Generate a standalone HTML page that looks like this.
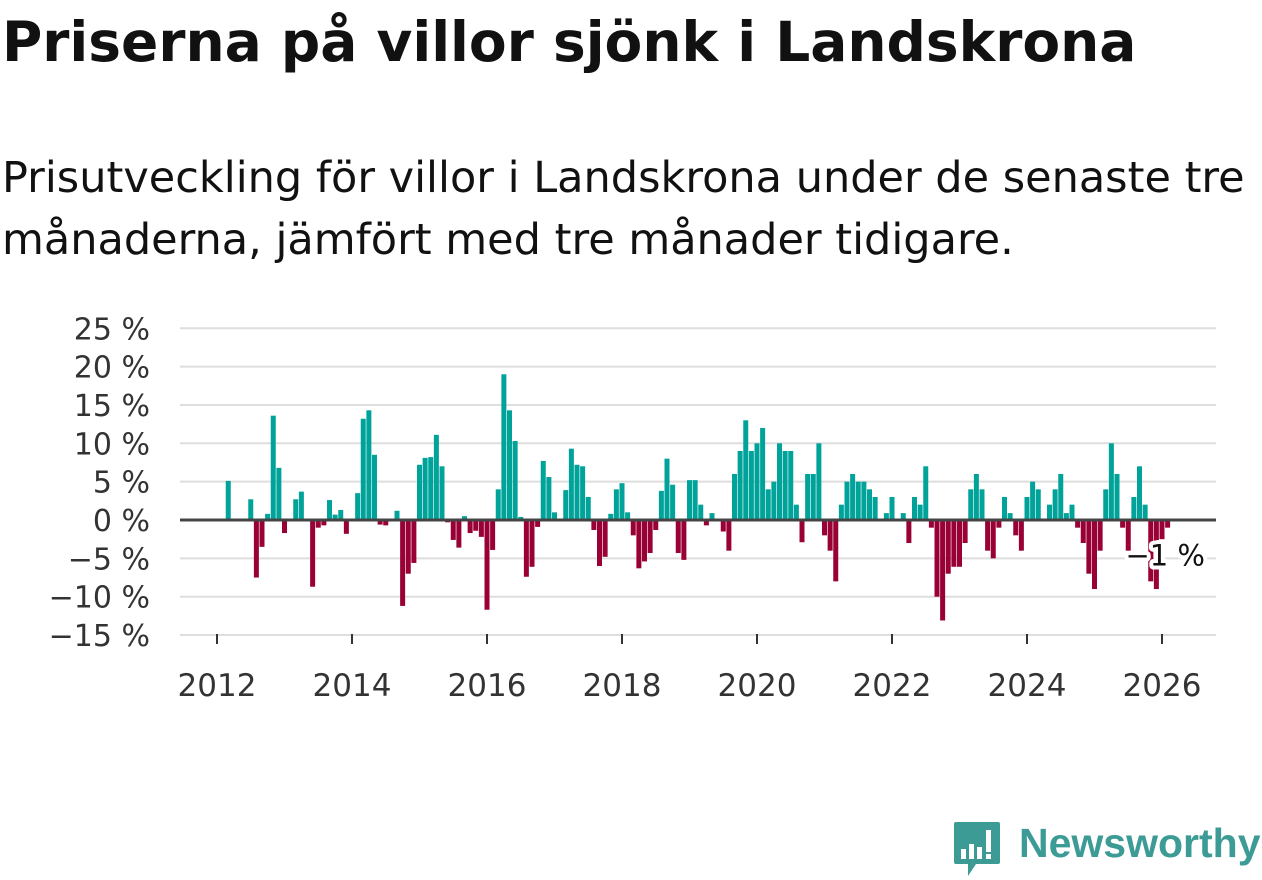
<!DOCTYPE html>
<html><head><meta charset="utf-8">
<style>
body{margin:0;background:#fff;width:1262px;height:879px;overflow:hidden;font-family:"DejaVu Sans","Liberation Sans",sans-serif;}
h1{position:absolute;left:2px;top:10px;margin:0;font-size:55px;font-weight:bold;color:#111;white-space:nowrap}
p{position:absolute;left:2px;top:147px;margin:0;font-size:43px;line-height:62px;color:#111;width:1262px}
svg{position:absolute;left:0;top:0}
</style></head><body>
<h1>Priserna på villor sjönk i Landskrona</h1>
<p>Prisutveckling för villor i Landskrona under de senaste tre månaderna, jämfört med tre månader tidigare.</p>
<svg id="chart" width="1262" height="879"></svg>
<div style="position:absolute;left:952px;top:820px;width:310px;height:60px">
<svg width="50" height="60" style="position:absolute;left:0;top:0"><path d="M4 2h42a2 2 0 0 1 2 2v38a2 2 0 0 1-2 2H24l-8 12v-12H4a2 2 0 0 1-2-2V4a2 2 0 0 1 2-2z" fill="#3d9b96"/><rect x="9" y="29" width="5" height="10" fill="#fff"/><rect x="17" y="24" width="5" height="15" fill="#fff"/><rect x="25" y="27" width="5" height="12" fill="#fff"/><rect x="34" y="10" width="5" height="22" fill="#fff"/><rect x="34" y="34" width="5" height="5" fill="#fff"/></svg>
<span style="position:absolute;left:67px;top:0px;font-size:41px;color:#3d9b96;font-weight:bold;font-family:'Liberation Sans',sans-serif">Newsworthy</span>
</div>
<script>
const startYear=2012, startMonth=2; // March 2012
const values=[5.1,0,0,0,2.7,-7.5,-3.5,0.8,13.6,6.8,-1.7,0,2.7,3.7,0,-8.7,-1.0,-0.7,2.6,0.7,1.3,-1.8,0,3.5,13.2,14.3,8.5,-0.6,-0.7,0,1.2,-11.2,-7.0,-5.6,7.2,8.1,8.2,11.1,7.0,-0.3,-2.6,-3.6,0.5,-1.7,-1.4,-2.2,-11.7,-3.9,4.0,19.0,14.3,10.3,0.4,-7.4,-6.1,-0.9,7.7,5.6,1.0,0,3.9,9.3,7.2,7.0,3.0,-1.3,-6.0,-4.8,0.8,4.0,4.8,1.0,-2.0,-6.3,-5.4,-4.3,-1.3,3.8,8.0,4.6,-4.3,-5.2,5.2,5.2,2.0,-0.7,0.9,0,-1.5,-4.0,6.0,9.0,13.0,9.0,10.0,12.0,4.0,5.0,10.0,9.0,9.0,2.0,-2.9,6.0,6.0,10.0,-2.0,-4.0,-8.0,2.0,5.0,6.0,5.0,5.0,4.0,3.0,0,0.9,3.0,0,0.9,-3.0,3.0,2.0,7.0,-1.0,-10.0,-13.1,-7.0,-6.1,-6.1,-3.0,4.0,6.0,4.0,-4.0,-5.0,-1.0,3.0,0.9,-2.0,-4.0,3.0,5.0,4.0,0,2.0,4.0,6.0,0.9,2.0,-1.0,-3.0,-7.0,-9.0,-4.0,4.0,10.0,6.0,-1.0,-4.0,3.0,7.0,2.0,-8.0,-9.0,-2.5,-1.0];
const yTicks=[25,20,15,10,5,0,-5,-10,-15];
const xTicks=[2012,2014,2016,2018,2020,2022,2024,2026];
const lastLabel="−1 %";
const NS="http://www.w3.org/2000/svg";
const svg=document.getElementById('chart');
const X0=217,PXY=67.5,Y0=520,PXP=7.67;
function x(t){return X0+(t-2012)*PXY;}
function y(v){return Y0-v*PXP;}
function mk(tag,attrs,parent){const e=document.createElementNS(NS,tag);for(const k in attrs)e.setAttribute(k,attrs[k]);(parent||svg).appendChild(e);return e;}
yTicks.forEach(v=>{
  if(v!==0){const g=mk('line',{x1:180,x2:1216,y1:y(v),y2:y(v),stroke:'#dedede','stroke-width':2});
  
  }
  const t=mk('text',{x:150,y:y(v)+11,'text-anchor':'end','font-size':30,fill:'#333'});
  
  
  t.textContent=(v<0?'−'+(-v):v)+' %';
});
xTicks.forEach(yr=>{
  const l=mk('line',{x1:x(yr),x2:x(yr),y1:634,y2:644,stroke:'#333','stroke-width':2});
  
  
  const t=mk('text',{x:x(yr),y:696,'text-anchor':'middle','font-size':31,fill:'#333'});
  
  
  t.textContent=yr;
});
values.forEach((v,i)=>{
  if(v===0)return;
  const t=startYear+(startMonth+i)/12;
  const cx=x(t);
  const r=mk('rect',{x:cx-2.5,width:5,y:Math.min(y(v),Y0),height:Math.abs(y(v)-Y0),fill:v>0?'#00a39a':'#990036'});
  
  
});
const z=mk('line',{x1:180,x2:1216,y1:Y0,y2:Y0,stroke:'#444','stroke-width':3});


const lt=mk('text',{x:1205,y:y(values[values.length-1])+38,'text-anchor':'end','font-size':29,fill:'#111',stroke:'#fff','stroke-width':8,'paint-order':'stroke','stroke-linejoin':'round'});


lt.textContent=lastLabel;
</script>
</body></html>
